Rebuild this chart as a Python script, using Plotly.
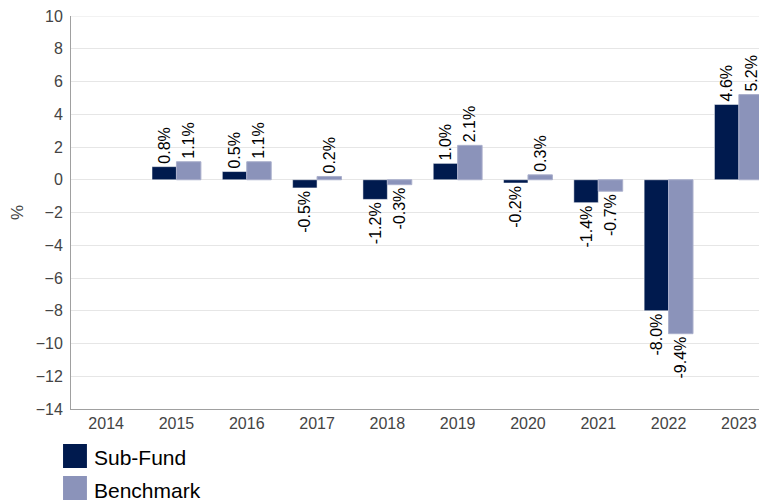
import plotly.graph_objects as go

years = ["2014", "2015", "2016", "2017", "2018", "2019", "2020", "2021", "2022", "2023"]
sub_fund = [None, 0.8, 0.5, -0.5, -1.2, 1.0, -0.2, -1.4, -8.0, 4.6]
benchmark = [None, 1.1, 1.1, 0.2, -0.3, 2.1, 0.3, -0.7, -9.4, 5.2]
y_ticks = list(range(-14, 11, 2))

NAVY = "#001A4E"
LAV = "#8B93BA"
FONT = "Liberation Sans, Arial, sans-serif"

def labels(vals):
    return ["" if v is None else f"{v:.1f}%" for v in vals]

fig = go.Figure()
fig.add_trace(go.Bar(
    x=years, y=sub_fund, name="Sub-Fund",
    marker=dict(color=NAVY, line=dict(color="#FFFFFF", width=0.5)),
    text=labels(sub_fund), textposition="outside", textangle=-90,
    textfont=dict(family=FONT, size=16, color="#000000"),
    constraintext="none", cliponaxis=False, showlegend=False,
))
fig.add_trace(go.Bar(
    x=years, y=benchmark, name="Benchmark",
    marker=dict(color=LAV, line=dict(color="#A9AECB", width=1)),
    text=labels(benchmark), textposition="outside", textangle=-90,
    textfont=dict(family=FONT, size=16, color="#000000"),
    constraintext="none", cliponaxis=False, showlegend=False,
))

# legend drawn manually (large square swatches); page coords -> paper coords
W = 699.0
H = 393.0
def px(x):
    return (x - 68) / W
def py(y):
    return (409 - y) / H

shapes = [
    # top gridline at the upper range limit
    dict(type="line", xref="paper", yref="y", x0=0, x1=1, y0=y_ticks[-1], y1=y_ticks[-1],
         line=dict(color="#E6E6E6", width=1), layer="below"),
    dict(type="rect", xref="paper", yref="paper", x0=px(60), x1=px(84), y0=py(468), y1=py(444),
         fillcolor=NAVY, line=dict(width=0)),
    dict(type="rect", xref="paper", yref="paper", x0=px(60), x1=px(84), y0=py(500), y1=py(476),
         fillcolor=LAV, line=dict(width=0)),
]
annotations = [
    dict(text="Sub-Fund", xref="paper", yref="paper", x=px(89), y=py(457), xanchor="left", yanchor="middle",
         showarrow=False, font=dict(family=FONT, size=21, color="#000000")),
    dict(text="Benchmark", xref="paper", yref="paper", x=px(89), y=py(490), xanchor="left", yanchor="middle",
         showarrow=False, font=dict(family=FONT, size=21, color="#000000")),
]

fig.update_layout(
    width=759, height=494,
    margin=dict(l=60, r=0, t=8, b=93),
    paper_bgcolor="#FFFFFF", plot_bgcolor="#FFFFFF",
    barmode="group", bargap=0.305, bargroupgap=0,
    font=dict(family=FONT, size=16, color="#444444"),
    shapes=shapes, annotations=annotations,
    showlegend=False,
    xaxis=dict(
        type="category", range=[-0.5, 9.4],
        showline=True, linecolor="#A0A0A0", linewidth=1,
        showgrid=False, ticks="", tickfont=dict(size=16, color="#444444"),
    ),
    yaxis=dict(
        range=[-14, 10], tickvals=y_ticks,
        showline=True, linecolor="#A0A0A0", linewidth=1,
        showgrid=True, gridcolor="#E6E6E6", gridwidth=1,
        zeroline=False, ticks="", ticklen=0, ticklabelstandoff=4,
        ticklabeloverflow="allow",
        tickfont=dict(size=16, color="#444444"),
        title=dict(text="%", font=dict(size=17, color="#444444"), standoff=16),
    ),
)

fig.write_html("out.html")
